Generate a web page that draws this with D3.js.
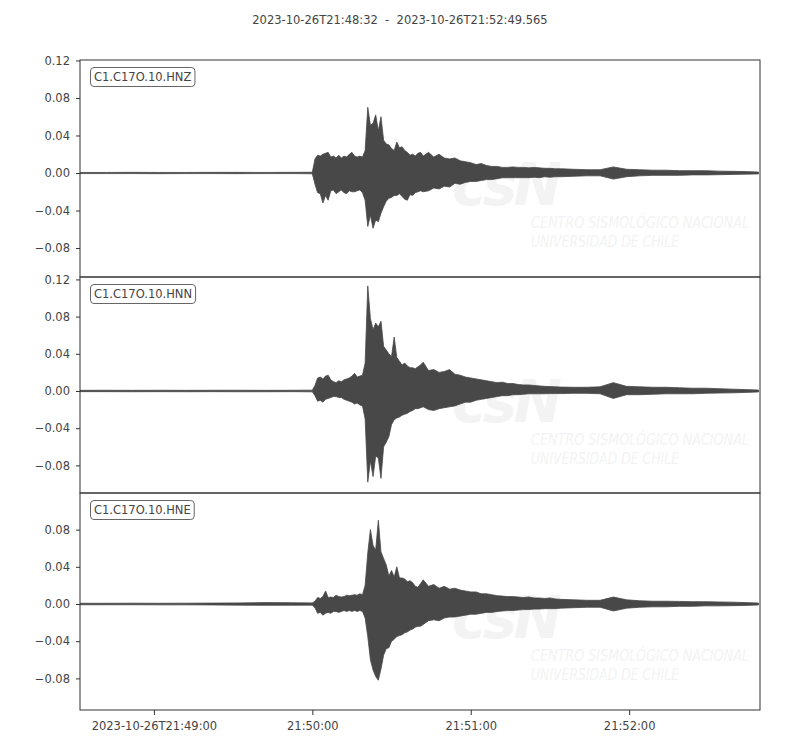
<!DOCTYPE html>
<html><head><meta charset="utf-8">
<script src="https://cdn.jsdelivr.net/npm/d3@7"></script>
<style>body{margin:0;background:#fff;} text{font-family:"DejaVu Sans",sans-serif;}</style>
</head><body>
<svg id="chart" width="800" height="750"></svg>
<script>
// ---------------- DATA ----------------
const startTime = "2023-10-26T21:48:32.000Z";
const endTime = "2023-10-26T21:52:49.565Z";
const titleText = "2023-10-26T21:48:32  -  2023-10-26T21:52:49.565";
const channels = ["C1.C17O.10.HNZ", "C1.C17O.10.HNN", "C1.C17O.10.HNE"];
const xTickTimes = ["2023-10-26T21:49:00Z", "2023-10-26T21:50:00Z", "2023-10-26T21:51:00Z", "2023-10-26T21:52:00Z"];
const xTickLabels = ["2023-10-26T21:49:00", "21:50:00", "21:51:00", "21:52:00"];
const yTickValues = [-0.08, -0.04, 0.00, 0.04, 0.08, 0.12];
const yDomains = [[-0.1109, 0.1205], [-0.1097, 0.1226], [-0.1140, 0.1194]];

// seconds after start time at which the envelope (max / min) was read
const seconds = [0,10,20,30,40,50,60,70,80,88,
 89,90,91,92,93,94,95,96,97,98,99,100,101,102,103,104,105,106,107,108,109,110,
 111,112,113,114,115,116,117,118,119,120,121,122,123,124,125,126,127,128,129,130,
 132,134,136,138,140,142,144,146,148,150,152,154,156,158,160,162,164,166,168,170,172,174,176,178,180,
 182,187,192,197,202,207,212,217,222,227,232,237,242,247,252,257];

const hnzMax = [0.0006,0.0006,0.0007,0.0006,0.0006,0.0007,0.0007,0.0006,0.0007,0.0008,
 0.015,0.019,0.018,0.020,0.021,0.022,0.017,0.018,0.016,0.019,0.016,0.018,0.017,0.020,0.022,0.018,0.017,0.018,0.017,0.024,0.070,0.051,
 0.053,0.062,0.045,0.060,0.035,0.031,0.030,0.026,0.024,0.033,0.027,0.028,0.024,0.022,0.019,0.020,0.018,0.021,0.022,0.018,
 0.022,0.017,0.020,0.016,0.015,0.016,0.013,0.012,0.011,0.009,0.010,0.008,0.007,0.007,0.006,0.006,0.0065,0.006,0.006,0.0055,0.006,0.0055,0.005,0.005,0.0045,
 0.0045,0.004,0.0035,0.0035,0.0065,0.004,0.0035,0.003,0.003,0.0025,0.0025,0.0025,0.002,0.0018,0.0015,0.001];
const hnzMin = [-0.0006,-0.0006,-0.0006,-0.0007,-0.0006,-0.0006,-0.0007,-0.0006,-0.0006,-0.0008,
 -0.012,-0.021,-0.022,-0.032,-0.024,-0.029,-0.019,-0.018,-0.022,-0.020,-0.018,-0.021,-0.022,-0.019,-0.020,-0.020,-0.019,-0.018,-0.021,-0.029,-0.057,-0.045,
 -0.059,-0.050,-0.052,-0.043,-0.036,-0.030,-0.027,-0.026,-0.024,-0.024,-0.022,-0.025,-0.028,-0.029,-0.023,-0.024,-0.021,-0.020,-0.019,-0.020,
 -0.019,-0.016,-0.017,-0.014,-0.015,-0.011,-0.012,-0.010,-0.009,-0.009,-0.008,-0.007,-0.007,-0.006,-0.005,-0.005,-0.005,-0.005,-0.005,-0.005,-0.0045,-0.005,-0.004,-0.0045,-0.004,
 -0.004,-0.0035,-0.003,-0.003,-0.0065,-0.004,-0.003,-0.0025,-0.0025,-0.0025,-0.002,-0.002,-0.0018,-0.0015,-0.0012,-0.001];

const hnnMax = [0.0007,0.0008,0.0007,0.0008,0.0007,0.0008,0.0008,0.0007,0.0008,0.0009,
 0.006,0.014,0.015,0.013,0.016,0.017,0.012,0.010,0.009,0.011,0.010,0.012,0.013,0.014,0.016,0.019,0.015,0.016,0.017,0.030,0.113,0.078,
 0.066,0.073,0.069,0.075,0.048,0.044,0.040,0.037,0.058,0.036,0.032,0.028,0.030,0.027,0.025,0.025,0.024,0.026,0.028,0.031,
 0.022,0.023,0.020,0.021,0.023,0.018,0.017,0.015,0.014,0.013,0.012,0.011,0.010,0.009,0.0095,0.008,0.008,0.007,0.0065,0.0065,0.006,0.0055,0.005,0.0048,0.0045,
 0.0042,0.004,0.004,0.0045,0.009,0.005,0.0045,0.004,0.004,0.0035,0.003,0.003,0.0025,0.002,0.0015,0.001];
const hnnMin = [-0.0007,-0.0007,-0.0008,-0.0007,-0.0008,-0.0007,-0.0008,-0.0008,-0.0007,-0.0009,
 -0.005,-0.011,-0.010,-0.012,-0.009,-0.008,-0.007,-0.006,-0.006,-0.007,-0.007,-0.009,-0.010,-0.011,-0.012,-0.014,-0.013,-0.015,-0.016,-0.030,-0.098,-0.075,
 -0.092,-0.070,-0.072,-0.094,-0.060,-0.055,-0.049,-0.036,-0.031,-0.029,-0.028,-0.026,-0.025,-0.024,-0.022,-0.021,-0.019,-0.019,-0.018,-0.017,
 -0.020,-0.021,-0.019,-0.018,-0.017,-0.016,-0.014,-0.012,-0.012,-0.010,-0.009,-0.008,-0.007,-0.006,-0.005,-0.005,-0.004,-0.004,-0.0035,-0.003,-0.003,-0.003,-0.003,-0.0028,-0.0028,
 -0.0028,-0.0025,-0.0025,-0.003,-0.008,-0.004,-0.004,-0.0035,-0.003,-0.003,-0.003,-0.0025,-0.0022,-0.002,-0.0015,-0.001];

const hneMax = [0.0008,0.0008,0.0009,0.0008,0.0009,0.0010,0.0012,0.0015,0.0014,0.0012,
 0.003,0.007,0.006,0.008,0.014,0.007,0.0075,0.007,0.0095,0.008,0.0075,0.008,0.0095,0.009,0.0095,0.010,0.0095,0.011,0.010,0.020,0.055,0.080,
 0.063,0.058,0.090,0.056,0.049,0.042,0.030,0.036,0.029,0.040,0.028,0.028,0.027,0.024,0.025,0.023,0.019,0.018,0.022,0.026,
 0.019,0.021,0.017,0.019,0.016,0.017,0.015,0.014,0.013,0.013,0.011,0.011,0.010,0.009,0.0085,0.008,0.008,0.0075,0.007,0.0075,0.0065,0.0065,0.006,0.0065,0.0055,
 0.005,0.0045,0.004,0.004,0.0075,0.0045,0.0035,0.003,0.003,0.0028,0.0025,0.0025,0.0022,0.002,0.0015,0.001];
const hneMin = [-0.0008,-0.0008,-0.0008,-0.0009,-0.0009,-0.0010,-0.0012,-0.0014,-0.0013,-0.0012,
 -0.004,-0.010,-0.009,-0.012,-0.010,-0.009,-0.010,-0.008,-0.008,-0.009,-0.008,-0.007,-0.008,-0.007,-0.008,-0.007,-0.008,-0.007,-0.008,-0.015,-0.035,-0.060,
 -0.071,-0.078,-0.082,-0.070,-0.055,-0.048,-0.047,-0.040,-0.038,-0.035,-0.034,-0.033,-0.031,-0.030,-0.028,-0.027,-0.025,-0.024,-0.024,-0.022,
 -0.018,-0.017,-0.018,-0.015,-0.014,-0.014,-0.013,-0.012,-0.011,-0.011,-0.010,-0.009,-0.009,-0.008,-0.0075,-0.007,-0.007,-0.0065,-0.006,-0.006,-0.0055,-0.0055,-0.005,-0.005,-0.005,
 -0.0045,-0.004,-0.0035,-0.0035,-0.0075,-0.0045,-0.0035,-0.003,-0.003,-0.0025,-0.0025,-0.002,-0.002,-0.0018,-0.0015,-0.001];

const maxSeries = [hnzMax, hnnMax, hneMax];
const minSeries = [hnzMin, hnnMin, hneMin];

// ---------------- LAYOUT ----------------
const svg = d3.select("#chart");
const left = 80, right = 760;
const panelTops = [60, 277, 493];
const panelH = [217, 216, 217];
const ink = "#444444";
const fs = 11.5;
const t0 = new Date(startTime), t1 = new Date(endTime);
const x = d3.scaleUtc().domain([t0, t1]).range([left, right]);

svg.append("text").attr("x", 400).attr("y", 24).attr("text-anchor", "middle")
  .style("white-space", "pre").attr("xml:space", "preserve")
  .attr("font-size", fs).attr("fill", ink).text(titleText);

channels.forEach((ch, i) => {
  const top = panelTops[i], h = panelH[i];
  const y = d3.scaleLinear().domain(yDomains[i]).range([top + h, top]);
  const g = svg.append("g");
  const clipId = "clip" + i;
  svg.append("defs").append("clipPath").attr("id", clipId)
    .append("rect").attr("x", left).attr("y", top).attr("width", right - left).attr("height", h);

  // faint watermark
  const wm = g.append("g").attr("fill", "#f3f3f3");
  wm.append("text").attr("x", 452).attr("y", top + 145).attr("font-size", 58)
    .attr("font-style", "italic").attr("font-weight", "bold").attr("font-family", "Liberation Sans, sans-serif")
    .attr("textLength", 110).text("csN");
  wm.append("text").attr("x", 531).attr("y", top + 168).attr("font-size", 15)
    .attr("font-style", "italic").attr("font-family", "Liberation Sans, sans-serif")
    .attr("textLength", 218).attr("lengthAdjust", "spacingAndGlyphs").text("CENTRO SISMOLÓGICO NACIONAL");
  wm.append("text").attr("x", 531).attr("y", top + 187).attr("font-size", 15)
    .attr("font-style", "italic").attr("font-family", "Liberation Sans, sans-serif")
    .attr("textLength", 148).attr("lengthAdjust", "spacingAndGlyphs").text("UNIVERSIDAD DE CHILE");

  // waveform envelope
  const pts = seconds.map((s, k) => ({t: new Date(t0.getTime() + s * 1000), hi: maxSeries[i][k], lo: minSeries[i][k]}));
  const area = d3.area().x(d => x(d.t)).y0(d => y(d.lo)).y1(d => y(d.hi));
  g.append("path").datum(pts).attr("clip-path", `url(#${clipId})`)
    .attr("d", area).attr("fill", "#484848").attr("stroke", "#484848").attr("stroke-width", 0.8)
    .attr("stroke-linejoin", "round");

  // frame
  g.append("rect").attr("x", left).attr("y", top).attr("width", right - left).attr("height", h)
    .attr("fill", "none").attr("stroke", "#333").attr("stroke-width", 1);

  // y axis
  const ticks = yTickValues.filter(v => v >= yDomains[i][0] && v <= yDomains[i][1]);
  const yAxis = d3.axisLeft(y).tickValues(ticks).tickSize(4).tickPadding(6)
    .tickFormat(v => d3.format(".2f")(v).replace("-", "\u2212"));
  const ya = g.append("g").attr("transform", `translate(${left},0)`).call(yAxis);
  ya.select(".domain").remove();
  ya.selectAll("line").attr("stroke", "#333");
  ya.selectAll("text").attr("font-size", fs).attr("fill", ink).attr("font-family", "DejaVu Sans, sans-serif");

  // channel label box
  const lbl = g.append("g");
  const txt = lbl.append("text").attr("x", 94).attr("y", top + 21).attr("font-size", fs)
    .attr("fill", ink).text(ch);
  const bb = txt.node().getBBox();
  lbl.insert("rect", "text").attr("x", bb.x - 3.5).attr("y", bb.y - 2.5)
    .attr("width", bb.width + 7).attr("height", bb.height + 5).attr("rx", 3.5)
    .attr("fill", "#fff").attr("stroke", "#666").attr("stroke-width", 1);

  if (i === channels.length - 1) {
    const xAxis = d3.axisBottom(x).tickValues(xTickTimes.map(s => new Date(s)))
      .tickSize(5).tickPadding(7).tickFormat((d, k) => xTickLabels[k]);
    const xa = g.append("g").attr("transform", `translate(0,${top + h})`).call(xAxis);
    xa.select(".domain").remove();
    xa.selectAll("line").attr("stroke", "#333");
    xa.selectAll("text").attr("font-size", fs).attr("fill", ink).attr("font-family", "DejaVu Sans, sans-serif");
  }
});
</script>
</body></html>
